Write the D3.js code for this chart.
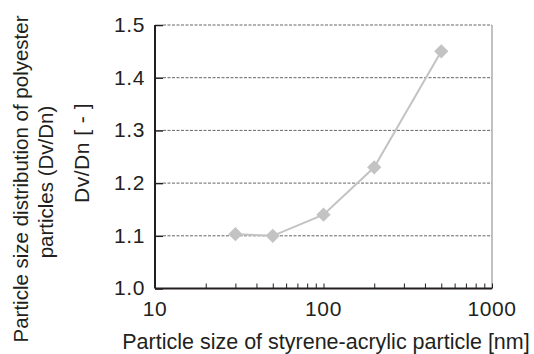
<!DOCTYPE html>
<html>
<head>
<meta charset="utf-8">
<script src="https://cdn.jsdelivr.net/npm/d3@7"></script>
<style>
  body { margin: 0; background: #fff; }
  text { font-family: "Liberation Sans", Arial, sans-serif; fill: #231f20; }
</style>
</head>
<body>
<div id="chart"></div>
<script>
// particle size of styrene-acrylic particle [nm]
const sizes = [30, 50, 100, 200, 500]
// Dv/Dn of polyester particles
const dvdn = [1.103, 1.10, 1.14, 1.23, 1.45]
const yTicks = [1.0, 1.1, 1.2, 1.3, 1.4, 1.5]
const xTicks = [10, 100, 1000]

const width = 534, height = 354
const plotL = 155, plotR = 492, plotT = 25, plotB = 288.5

const svg = d3.select('#chart')
  .append('svg')
  .attr('width', width)
  .attr('height', height)

const x = d3.scaleLog().domain([10, 1000]).range([plotL, plotR])
const y = d3.scaleLinear().domain([1.0, 1.5]).range([plotB, plotT])

// dashed grid lines
svg.append('g')
  .selectAll('line')
  .data(yTicks.filter(d => d > 1.0))
  .enter()
  .append('line')
  .attr('x1', plotL + 8)
  .attr('x2', plotR)
  .attr('y1', d => y(d))
  .attr('y2', d => y(d))
  .attr('stroke', '#666')
  .attr('stroke-width', 1)
  .attr('stroke-dasharray', '3,1.5')

// right border
svg.append('line')
  .attr('x1', plotR).attr('x2', plotR)
  .attr('y1', plotT).attr('y2', plotB)
  .attr('stroke', '#999')
  .attr('stroke-width', 1.2)

// y axis
const yAxis = svg.append('g')
  .attr('transform', `translate(${plotL},0)`)
  .call(d3.axisRight(y).tickValues(yTicks).tickSize(8).tickFormat(d3.format('.1f')))
yAxis.select('.domain').attr('stroke', '#231f20').attr('stroke-width', 2).attr('d', `M0,${plotT}V${plotB}`)
yAxis.selectAll('.tick line').attr('stroke', '#231f20').attr('stroke-width', 1.5)
yAxis.selectAll('.tick text')
  .attr('x', -10)
  .attr('dy', '0.3em')
  .attr('text-anchor', 'end')
  .style('font-size', '21px')
  .style('letter-spacing', '0.6px')

// x axis (log, minor ticks inside)
const minor = d3.range(2, 10).map(d => d * 10).concat(d3.range(2, 10).map(d => d * 100))
const xAxis = svg.append('g')
  .attr('transform', `translate(0,${plotB})`)
  .call(d3.axisTop(x).tickValues(minor.concat([100, 1000])).tickSize(5).tickFormat(''))
xAxis.select('.domain').attr('stroke', '#231f20').attr('stroke-width', 2).attr('d', `M${plotL},0H${plotR}`)
xAxis.selectAll('.tick line').attr('stroke', '#231f20').attr('stroke-width', 1)

svg.append('g')
  .selectAll('text')
  .data(xTicks)
  .enter()
  .append('text')
  .attr('x', d => x(d))
  .attr('y', plotB + 27)
  .attr('text-anchor', 'middle')
  .style('font-size', '21px')
  .style('letter-spacing', '0.6px')
  .text(d => d)

// series line
const pts = sizes.map((s, i) => [s, dvdn[i]])
svg.append('path')
  .datum(pts)
  .attr('fill', 'none')
  .attr('stroke', '#c3c3c3')
  .attr('stroke-width', 2)
  .attr('d', d3.line().x(d => x(d[0])).y(d => y(d[1])))

svg.append('g')
  .selectAll('path')
  .data(pts)
  .enter()
  .append('path')
  .attr('transform', d => `translate(${x(d[0])},${y(d[1])})`)
  .attr('d', d3.symbol().type(d3.symbolDiamond2).size(130))
  .attr('fill', '#c3c3c3')

// titles
svg.append('text')
  .attr('x', 326)
  .attr('y', 349)
  .attr('text-anchor', 'middle')
  .style('font-size', '21.5px')
  .text('Particle size of styrene-acrylic particle [nm]')

svg.append('text')
  .attr('transform', 'translate(89,153) rotate(-90)')
  .attr('text-anchor', 'middle')
  .style('font-size', '21px')
  .style('letter-spacing', '0.5px')
  .text('Dv/Dn [ - ]')

svg.append('text')
  .attr('transform', 'translate(28,179) rotate(-90)')
  .attr('text-anchor', 'middle')
  .style('font-size', '20.5px')
  .text('Particle size distribution of polyester')

svg.append('text')
  .attr('transform', 'translate(53,182) rotate(-90)')
  .attr('text-anchor', 'middle')
  .style('font-size', '20.5px')
  .text('particles (Dv/Dn)')
</script>
</body>
</html>
